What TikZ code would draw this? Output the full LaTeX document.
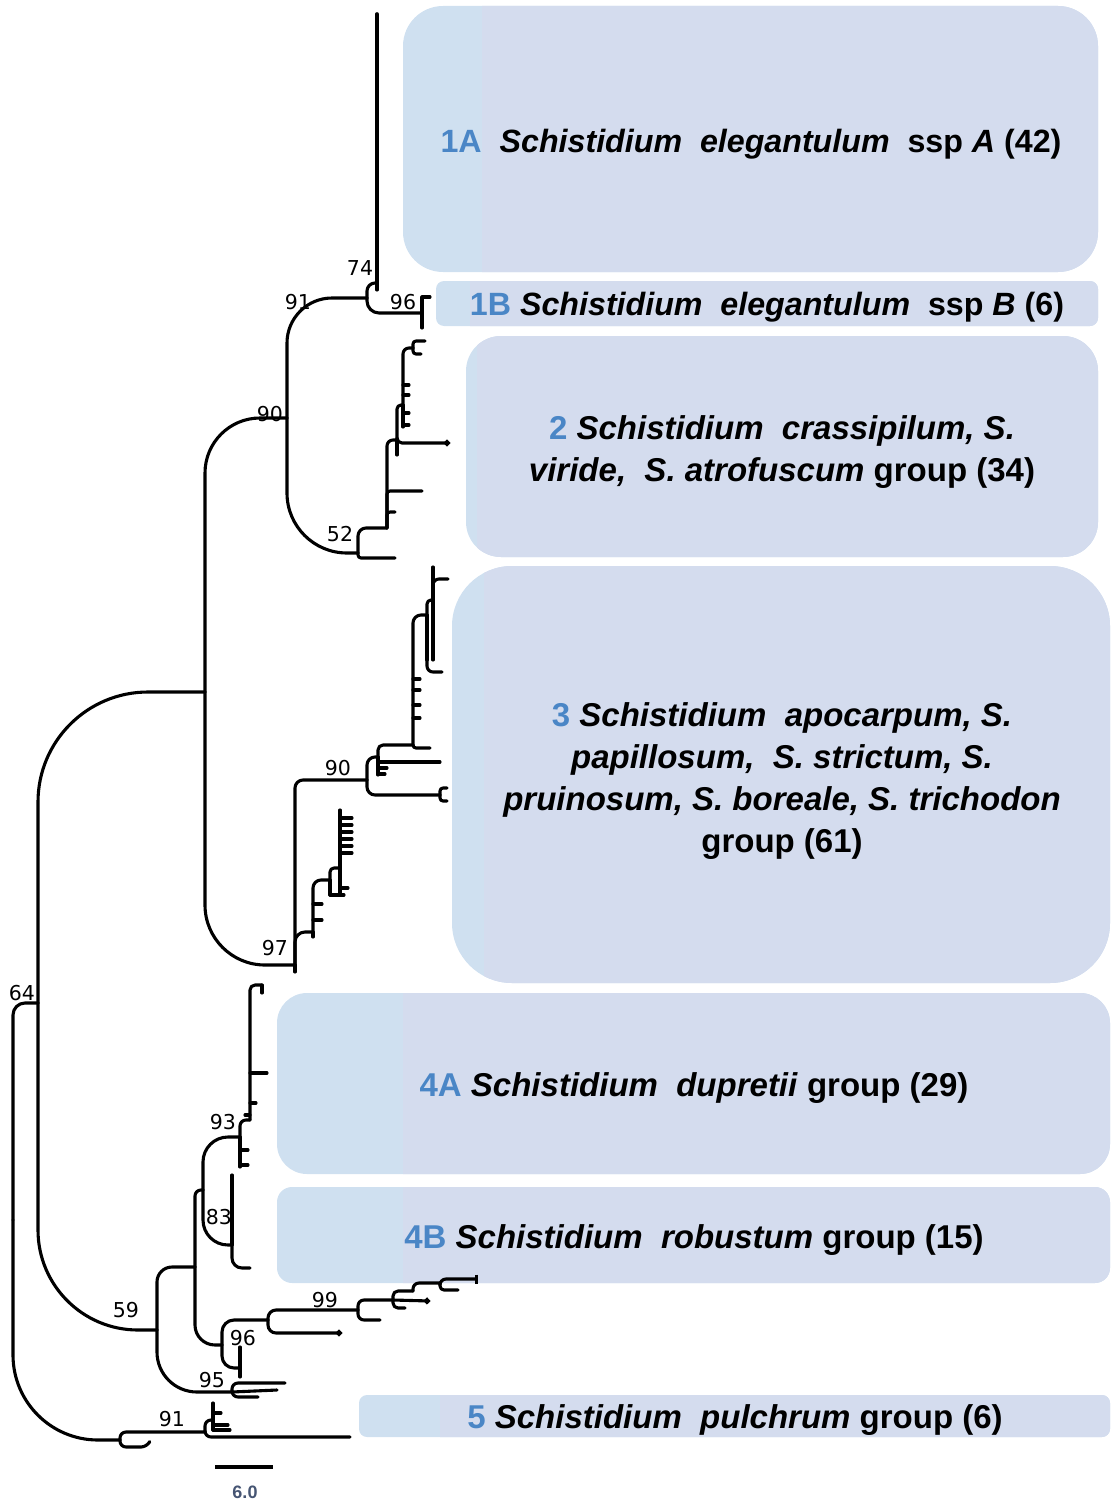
\documentclass[tikz,border=0pt]{standalone}
\usepackage{fontspec}
\setmainfont{Liberation Sans}
\newfontfamily\bootface{DejaVu Sans}
\usetikzlibrary{arrows.meta}

\definecolor{boxleft}{RGB}{207,224,240}
\definecolor{boxright}{RGB}{212,220,238}
\definecolor{numblue}{RGB}{74,134,198}
\definecolor{scalegray}{RGB}{70,85,115}

\newcommand{\cladefont}{\fontsize{33}{42}\selectfont\bfseries}
\newcommand{\bootfont}{\bootface\fontsize{20.5}{23}\selectfont}
\newcommand{\gnum}[1]{\textcolor{numblue}{#1}}

% x1, y1, x2, y2, corner radius, start of the right shade
\newcommand{\groupbox}[6]{%
  \fill[boxleft, rounded corners=#5] (#1,#2) rectangle (#3,#4);
  \begin{scope}
    \clip (#6,#2) rectangle (#3,#4);
    \fill[boxright, rounded corners=#5] (#1,#2) rectangle (#3,#4);
  \end{scope}}

\tikzset{
  branch/.style={line width=3.1pt, line cap=round, line join=round},
  boot/.style={font=\bootfont, inner sep=0pt},
  grouplabel/.style={font=\cladefont, align=center, inner sep=0pt},
  tipdot/.style={-{Circle[length=6pt, width=6pt]}},
  tipbar/.style={-{Bar[width=9pt]}}
}

\begin{document}
\begin{tikzpicture}[x=1pt, y=-1pt]
  \useasboundingbox (0,0) rectangle (1111,1501);

  % group boxes
  \groupbox{403}{6}{1098}{272}{40pt}{482}
  \groupbox{436}{281}{1098}{326}{8pt}{470}
  \groupbox{466}{336}{1098}{557}{35pt}{477}
  \groupbox{452}{566}{1110}{983}{60pt}{484}
  \groupbox{277}{993}{1110}{1174}{30pt}{403}
  \groupbox{277}{1187}{1110}{1283}{15pt}{403}
  \groupbox{359}{1395}{1110}{1437}{8pt}{440}

  \node[grouplabel, font=\fontsize{32.2}{42}\selectfont\bfseries] (g1a) at (751,144) {\gnum{1A}\ \ \textit{Schistidium\ \ elegantulum}\ \ ssp \textit{A} (42)};
  \node[grouplabel, font=\fontsize{32.2}{42}\selectfont\bfseries] (g1b) at (767,307) {\gnum{1B} \textit{Schistidium\ \ elegantulum}\ \ ssp \textit{B} (6)};
  \node[grouplabel] (g2) at (782,452) {\gnum{2} \textit{Schistidium\ \ crassipilum, S.}\\
    \textit{viride,\ \ S. atrofuscum} group (34)};
  \node[grouplabel] (g3) at (782,781) {\gnum{3} \textit{Schistidium\ \ apocarpum, S.}\\
    \textit{papillosum,\ \ S. strictum, S.}\\
    \textit{pruinosum, S. boreale, S. trichodon}\\
    group (61)};
  \node[grouplabel] (g4a) at (694,1088) {\gnum{4A} \textit{Schistidium\ \ dupretii} group (29)};
  \node[grouplabel] (g4b) at (694,1240) {\gnum{4B} \textit{Schistidium\ \ robustum} group (15)};
  \node[grouplabel] (g5) at (735,1420) {\gnum{5} \textit{Schistidium\ \ pulchrum} group (6)};

  % internal nodes of the tree
  \coordinate (root) at (13,1220);
  \coordinate (n64) at (38,1003);
  \coordinate (ntop) at (205,692);
  \coordinate (n90a) at (287,418);
  \coordinate (n91a) at (367,298);
  \coordinate (n74) at (377,283);
  \coordinate (n96a) at (422,313);
  \coordinate (n52) at (358,553);
  \coordinate (n2a) at (387,528);
  \coordinate (n2b) at (397,440);
  \coordinate (n2c) at (403,405);
  \coordinate (n2d) at (413,348);
  \coordinate (n97) at (295,965);
  \coordinate (n90b) at (367,780);
  \coordinate (t3a) at (440,795);
  \coordinate (n3a) at (378,757);
  \coordinate (n3b) at (413,745);
  \coordinate (n3c) at (427,615);
  \coordinate (n3d) at (433,600);
  \coordinate (n3e) at (313,932);
  \coordinate (n3f) at (330,880);
  \coordinate (n3g) at (340,868);
  \coordinate (n59) at (157,1330);
  \coordinate (n4) at (195,1267);
  \coordinate (n4x) at (203,1190);
  \coordinate (n93) at (240,1137);
  \coordinate (n4a) at (250,1120);
  \coordinate (t4a) at (262,985);
  \coordinate (n83) at (232,1245);
  \coordinate (n96b) at (222,1345);
  \coordinate (n96c) at (240,1368);
  \coordinate (n99) at (268,1320);
  \coordinate (n99a) at (358,1310);
  \coordinate (n99b) at (393,1300);
  \coordinate (n99c) at (413,1291);
  \coordinate (n99d) at (440,1283);
  \coordinate (n95) at (232,1392);
  \coordinate (n5a) at (120,1440);
  \coordinate (n91b) at (205,1432);
  \coordinate (n5b) at (213,1420);

  % backbone
  \draw[branch, rounded corners=12pt] (root) |- (n64);
  \draw[branch, rounded corners=85pt] (root) |- (n5a);
  \draw[branch, rounded corners=110pt] (n64) |- (ntop);
  \draw[branch, rounded corners=100pt] (n64) |- (n59);
  \draw[branch, rounded corners=55pt] (ntop) |- (n90a);
  \draw[branch, rounded corners=60pt] (ntop) |- (n97);

  % groups 1A, 1B
  \draw[branch, rounded corners=45pt] (n90a) |- (n91a);
  \draw[branch, rounded corners=60pt] (n90a) |- (n52);
  \draw[branch, rounded corners=8pt] (n91a) |- (n74);
  \draw[branch, line width=3.6pt] (n74) -- ++(0,-269);
  \draw[branch] (n74) -- ++(0,7);
  \draw[branch, rounded corners=12pt] (n91a) |- (n96a);
  \draw[branch] (n96a) -- ++(0,-16) -- ++(8,0);
  \draw[branch] (n96a) -- ++(0,15);

  % group 2
  \draw[branch, rounded corners=8pt] (n52) |- (n2a);
  \draw[branch, rounded corners=3pt] (n52) |- ++(37,5);
  \draw[branch, rounded corners=6pt] (n2a) |- (n2b);
  \draw[branch, rounded corners=3pt] (n2a) |- ++(35,-37);
  \draw[branch, rounded corners=3pt] (n2a) |- ++(8,-16);
  \draw[branch, rounded corners=5pt, tipdot] (n2b) |- ++(53,3);
  \draw[branch] (n2b) -- ++(0,15);
  \draw[branch, rounded corners=4pt] (n2b) |- (n2c);
  \draw[branch] (n2c) -- ++(0,22);
  \foreach \dy in {-20,-10,8,20}
    \draw[branch] (n2c) ++(0,\dy) -- ++(6,0);
  \draw[branch, rounded corners=6pt] (n2c) |- (n2d);
  \draw[branch, rounded corners=3pt] (n2d) |- ++(12,-7);
  \draw[branch, rounded corners=3pt] (n2d) |- ++(8,6);

  % group 3
  \draw[branch, rounded corners=8pt] (n97) |- (n90b);
  \draw[branch] (n97) -- ++(0,7);
  \draw[branch, rounded corners=10pt] (n97) |- (n3e);
  \draw[branch, rounded corners=8pt] (n90b) |- (n3a);
  \draw[branch, rounded corners=8pt] (n90b) |- (t3a);
  \draw[branch, rounded corners=3pt] (t3a) |- ++(7,-7);
  \draw[branch, rounded corners=3pt] (t3a) |- ++(7,6);
  \draw[branch, rounded corners=5pt] (n3a) |- (n3b);
  \draw[branch] (n3a) -- ++(0,18);
  \draw[branch] (n3a) ++(0,5) -- ++(62,0);
  \draw[branch] (n3a) ++(0,11) -- ++(9,0);
  \draw[branch] (n3a) ++(0,17) -- ++(7,0);
  \draw[branch, rounded corners=3pt] (n3b) |- ++(17,3);
  \draw[branch, rounded corners=8pt] (n3b) |- (n3c);
  \foreach \dy in {-27,-40,-55,-66}
    \draw[branch] (n3b) ++(0,\dy) -- ++(7,0);
  \draw[branch] (n3c) -- ++(0,45);
  \draw[branch, rounded corners=6pt] (n3c) ++(0,45) |- ++(15,12);
  \draw[branch, rounded corners=4pt] (n3c) |- (n3d);
  \draw[branch] (n3d) -- ++(0,-33);
  \draw[branch] (n3d) -- ++(0,60);
  \draw[branch, rounded corners=6pt] (n3d) ++(0,-8) |- ++(15,-13);
  \draw[branch] (n3e) -- ++(0,5);
  \draw[branch] (n3e) ++(0,-12) -- ++(9,0);
  \draw[branch] (n3e) ++(0,-28) -- ++(9,0);
  \draw[branch, rounded corners=8pt] (n3e) |- (n3f);
  \draw[branch, rounded corners=4pt] (n3f) |- (n3g);
  \draw[branch] (n3f) -- ++(0,15);
  \draw[branch, rounded corners=3pt] (n3f) ++(0,15) -- ++(14,0);
  \draw[branch] (n3g) -- ++(0,25);
  \draw[branch] (n3g) -- ++(0,-58);
  \foreach \dy in {-50,-43,-36,-29,-22,-15}
    \draw[branch] (n3g) ++(0,\dy) -- ++(12,0);
  \draw[branch] (n3g) ++(0,20) -- ++(8,0);

  % groups 4A, 4B and their sisters
  \draw[branch, rounded corners=15pt] (n59) |- (n4);
  \draw[branch, rounded corners=40pt] (n59) |- (n95);
  \draw[branch, rounded corners=6pt] (n4) |- (n4x);
  \draw[branch, rounded corners=20pt] (n4) |- (n96b);
  \draw[branch, rounded corners=25pt] (n4x) |- (n93);
  \draw[branch, rounded corners=25pt] (n4x) |- (n83);
  \draw[branch] (n93) -- ++(0,30);
  \draw[branch] (n93) ++(0,13) -- ++(8,0);
  \draw[branch] (n93) ++(0,28) -- ++(8,0);
  \draw[branch, rounded corners=6pt] (n93) |- (n4a);
  \draw[branch, rounded corners=5pt] (n4a) |- (t4a);
  \draw[branch] (t4a) -- ++(0,8);
  \draw[branch] (n4a) ++(0,-47) -- ++(17,0);
  \draw[branch] (n4a) ++(0,-17) -- ++(6,0);
  \draw[branch] (n4a) ++(0,-5) -- ++(-5,0);
  \draw[branch] (n83) -- ++(0,-70);
  \draw[branch, rounded corners=10pt] (n83) |- ++(18,23);
  \draw[branch, rounded corners=12pt] (n96b) |- (n99);
  \draw[branch, rounded corners=12pt] (n96b) |- (n96c);
  \draw[branch] (n96c) -- ++(0,-21);
  \draw[branch] (n96c) -- ++(0,9);
  \draw[branch, rounded corners=8pt] (n99) |- (n99a);
  \draw[branch, rounded corners=8pt, tipdot] (n99) |- ++(74,13);
  \draw[branch, rounded corners=6pt] (n99a) |- (n99b);
  \draw[branch, rounded corners=6pt] (n99a) |- ++(22,10);
  \draw[branch, rounded corners=5pt] (n99b) |- (n99c);
  \draw[branch, rounded corners=5pt] (n99b) |- ++(12,8);
  \draw[branch, tipdot] (n99b) -- ++(37,1);
  \draw[branch, rounded corners=6pt] (n99c) |- (n99d);
  \draw[branch, rounded corners=6pt, tipbar] (n99d) |- ++(38,-4);
  \draw[branch, rounded corners=4pt] (n99d) |- ++(18,7);
  \draw[branch, rounded corners=6pt] (n95) |- ++(53,-9);
  \draw[branch] (n95) -- ++(45,-2);
  \draw[branch, rounded corners=6pt] (n95) |- ++(26,5);

  % group 5
  \draw[branch, rounded corners=6pt] (n5a) |- (n91b);
  \draw[branch, rounded corners=6pt] (n5a) |- ++(27,7) -- ++(2,-4);
  \draw[branch, rounded corners=6pt] (n91b) |- (n5b);
  \draw[branch, rounded corners=6pt] (n91b) |- ++(145,5);
  \draw[branch] (n5b) -- ++(0,-17);
  \draw[branch] (n5b) -- ++(0,10);
  \draw[branch] (n5b) ++(0,-7) -- ++(8,0);
  \draw[branch] (n5b) ++(0,5) -- ++(15,0);
  \draw[branch] (n5b) ++(0,10) -- ++(17,0);

  % support values
  \node[boot] (b74) at (360,268) {74};
  \node[boot] (b91a) at (298,302) {91};
  \node[boot] (b96a) at (403,302) {96};
  \node[boot] (b90a) at (270,414) {90};
  \node[boot] (b52) at (340,534) {52};
  \node[boot] (b90b) at (338,768) {90};
  \node[boot] (b97) at (275,948) {97};
  \node[boot] (b64) at (22,993) {64};
  \node[boot] (b93) at (223,1122) {93};
  \node[boot] (b83) at (219,1217) {83};
  \node[boot] (b99) at (325,1300) {99};
  \node[boot] (b59) at (126,1310) {59};
  \node[boot] (b96b) at (243,1338) {96};
  \node[boot] (b95) at (212,1380) {95};
  \node[boot] (b91b) at (172,1419) {91};

  % scale bar
  \coordinate (sbl) at (215,1467);
  \coordinate (sbr) at (273,1467);
  \draw[line width=4.5pt] (sbl) -- (sbr);
  \node[font=\fontsize{18}{20}\selectfont\bfseries, text=scalegray, inner sep=0pt] (sbtext) at (245,1492) {6.0};
\end{tikzpicture}
\end{document}
